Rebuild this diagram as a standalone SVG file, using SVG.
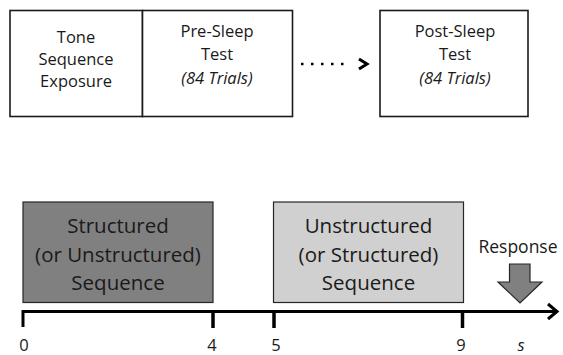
<svg xmlns="http://www.w3.org/2000/svg" width="563" height="355" viewBox="0 0 563 355">
  <style>
    text { font-family: "Open Sans", "Liberation Sans", sans-serif; fill: #1a1a1a; text-anchor: middle; }
    .top { font-size: 16.5px; }
    .it { font-style: italic; }
    .big { font-size: 20.5px; }
    .lbl { font-size: 16.5px; }
    .box { fill: #ffffff; stroke: #1a1a1a; stroke-width: 1.6; }
    .axis { stroke: #000000; stroke-width: 3; fill: none; }
    .tick { stroke: #000000; stroke-width: 3.5; }
  </style>

  <!-- session procedure -->
  <g id="exposure">
    <rect class="box" x="10" y="10.5" width="132.5" height="106"/>
    <text class="top" x="76" y="43">Tone</text>
    <text class="top" x="76" y="65">Sequence</text>
    <text class="top" x="76" y="87">Exposure</text>
  </g>
  <g id="pre-sleep">
    <rect class="box" x="142.5" y="10.5" width="150" height="106"/>
    <text class="top" x="217" y="37">Pre-Sleep</text>
    <text class="top" x="217" y="60">Test</text>
    <text class="top it" x="217" y="84">(84 Trials)</text>
  </g>
  <g id="post-sleep">
    <rect class="box" x="380" y="10.5" width="148" height="106"/>
    <text class="top" x="455" y="37">Post-Sleep</text>
    <text class="top" x="455" y="60">Test</text>
    <text class="top it" x="455" y="84">(84 Trials)</text>
  </g>

  <g id="connectors">
    <line x1="301" y1="64" x2="346" y2="64" stroke="#000" stroke-width="2.5" stroke-dasharray="2.5 7.5"/>
    <polyline points="359,59 367,64 359,69" fill="none" stroke="#000" stroke-width="3"/>
  </g>

  <!-- trial timeline -->
  <g id="first-sequence">
    <rect x="23" y="202" width="190" height="100.5" fill="#808080" stroke="#262626" stroke-width="1.2"/>
    <text class="big" x="118" y="233">Structured</text>
    <text class="big" x="118" y="261.5">(or Unstructured)</text>
    <text class="big" x="118" y="290">Sequence</text>
  </g>
  <g id="second-sequence">
    <rect x="273.5" y="202" width="190" height="100.5" fill="#d0d0d0" stroke="#262626" stroke-width="1.2"/>
    <text class="big" x="368.5" y="233">Unstructured</text>
    <text class="big" x="368.5" y="261.5">(or Structured)</text>
    <text class="big" x="368.5" y="290">Sequence</text>
  </g>
  <g id="response">
    <text x="518" y="253" style="font-size:17.5px">Response</text>
    <polygon points="509.5,264 530,264 530,282 542,282 520,303 498,282 509.5,282" fill="#808080" stroke="#262626" stroke-width="1.2"/>
  </g>

  <g id="time-axis">
    <polyline class="axis" points="23,327 23,311.5 556,311.5"/>
    <polyline points="548,304 557,311.5 548,319" fill="none" stroke="#000" stroke-width="3"/>
    <line class="tick" x1="213" y1="311.5" x2="213" y2="328"/>
    <line class="tick" x1="274" y1="311.5" x2="274" y2="328"/>
    <line class="tick" x1="462.5" y1="311.5" x2="462.5" y2="328"/>
    <text class="lbl" x="24" y="351">0</text>
    <text class="lbl" x="212" y="351">4</text>
    <text class="lbl" x="276" y="351">5</text>
    <text class="lbl" x="461" y="351">9</text>
    <text class="lbl it" x="521" y="351">s</text>
  </g>
</svg>
